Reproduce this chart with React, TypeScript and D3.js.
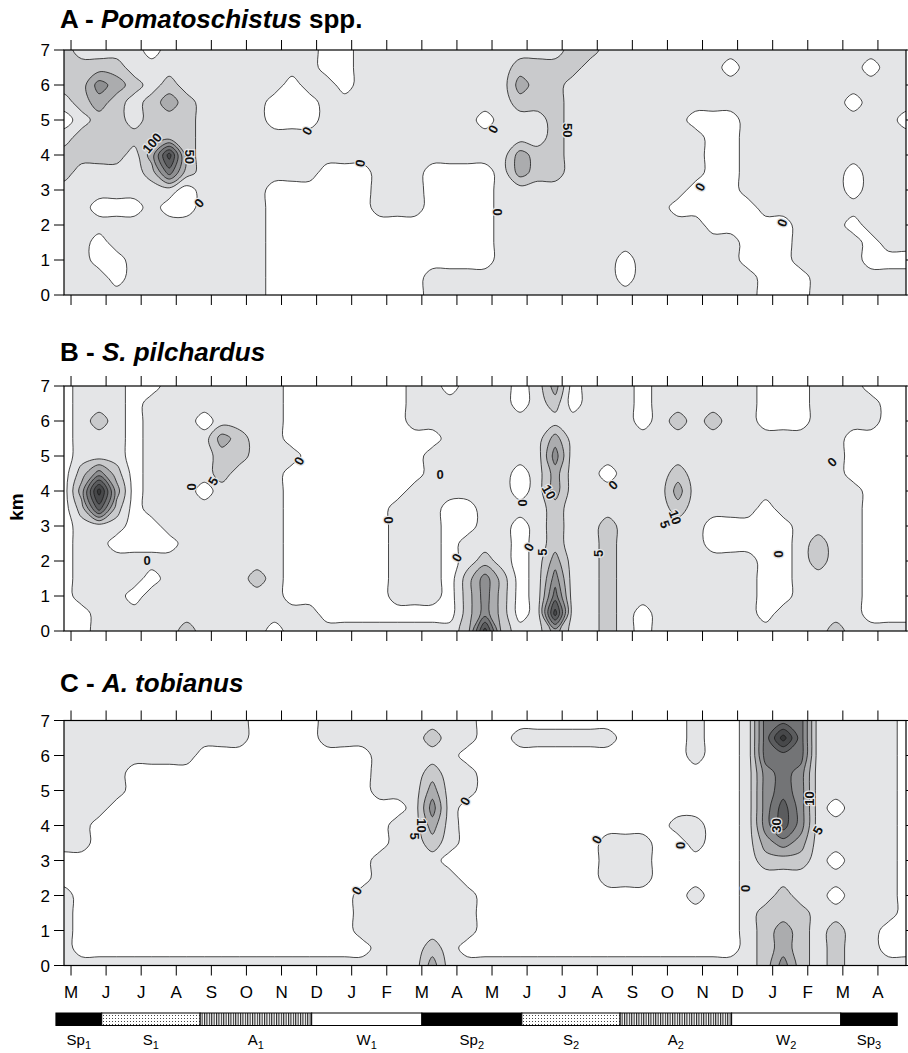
import * as d3 from 'd3'

// ---- data ----
const months = ['M', 'J', 'J', 'A', 'S', 'O', 'N', 'D', 'J', 'F', 'M', 'A', 'M', 'J', 'J', 'A', 'S', 'O', 'N', 'D', 'J', 'F', 'M', 'A']
const kmTicks = [0, 1, 2, 3, 4, 5, 6, 7]

// grids: one char per node, columns every half month from -0.2, rows every 0.5 km from 7 (top) down to 0
// value = contour band (0 = white/absent, 1 = first grey band, ...)
const gridA = [
  '2111101111' + '1111100111' + '1111111112' + '2111111111' + '111111111',
  '2222111111' + '1111100111' + '1111112222' + '1111111101' + '111111011',
  '2243212111' + '1110110111' + '1111113221' + '1111111111' + '111111111',
  '1232123211' + '1100011111' + '1111112221' + '1111111111' + '111110111',
  '0122122211' + '1100011111' + '1111011121' + '1111110001' + '111111110',
  '1222222211' + '1111111111' + '1111111121' + '1111111001' + '111111111',
  '2222137211' + '1111111111' + '1111113221' + '1111111001' + '111111111',
  '2111125211' + '1111100011' + '1000013221' + '1111111001' + '111110111',
  '1111111011' + '1100000011' + '1000011111' + '1111110001' + '111110111',
  '1100010011' + '1100000011' + '1000011111' + '1111100000' + '111111111',
  '1111111111' + '1100000000' + '0000011111' + '1111111000' + '001110111',
  '1101111111' + '1100000000' + '0000011111' + '1111111110' + '001111011',
  '1100111111' + '1100000000' + '0000011111' + '1101111110' + '001111000',
  '1110111111' + '1100000000' + '0111111111' + '1101111111' + '000111111',
  '1111111111' + '1100000000' + '0111111111' + '1111111111' + '000111111',
]

const gridB = [
  '0111001111' + '1110000000' + '1101110130' + '1110111111' + '000111000',
  '0111011111' + '1110000000' + '1111110120' + '1110111111' + '000111100',
  '0121011101' + '1110000000' + '1111111111' + '1110121211' + '000111100',
  '0111011113' + '2110000000' + '0011111131' + '1111111111' + '111110000',
  '0111011112' + '2111000000' + '0111111141' + '1111111111' + '111110000',
  '0242011112' + '1110000000' + '0111110131' + '1011121111' + '111110000',
  '0383011101' + '1110000000' + '1111110131' + '1111131111' + '111111000',
  '0262011111' + '1110000001' + '1100111121' + '1111121111' + '011111000',
  '0111001111' + '1110000001' + '1100110121' + '1211111000' + '001111000',
  '0110000111' + '1110000001' + '1101110121' + '1211111000' + '001211000',
  '0111111111' + '1110000001' + '1101210131' + '1211111111' + '001211000',
  '0111101111' + '1210000001' + '1102420141' + '1211111111' + '001111000',
  '0111011111' + '1110000001' + '1102420151' + '1211111111' + '001111000',
  '0011111111' + '1111100000' + '0002420171' + '1210111111' + '011111000',
  '0011111211' + '1101111111' + '1112721131' + '1210111111' + '111121111',
]

const gridC = [
  '1111111111' + '1000011111' + '1111000000' + '0000001001' + '555111110',
  '1111111111' + '1000011111' + '1211001111' + '1100001001' + '585111110',
  '1111111100' + '0000000011' + '1110000000' + '0000001001' + '555111110',
  '1111000000' + '0000000011' + '1211000000' + '0000000001' + '454111110',
  '1111000000' + '0000000011' + '1311000000' + '0000000001' + '454111110',
  '1110000000' + '0000000000' + '1410000000' + '0000000001' + '464101110',
  '1100000000' + '0000000001' + '1310000000' + '0000011001' + '464111110',
  '1100000000' + '0000000001' + '1210000000' + '0111001001' + '343111110',
  '0000000000' + '0000000011' + '1100000000' + '0111000001' + '222101110',
  '0000000000' + '0000000011' + '1110000000' + '0111000001' + '111111110',
  '1000000000' + '0000000111' + '1111000000' + '0000001001' + '121101110',
  '1000000000' + '0000000111' + '1111000000' + '0000000001' + '222111110',
  '1000000000' + '0000000111' + '1111000000' + '0000000001' + '232121100',
  '1000000000' + '0000000011' + '1210000000' + '0000000001' + '232121100',
  '1111111111' + '1111111111' + '1311111111' + '1111111111' + '242121111',
]

// contour labels: [month index, km, text, rotation]
const labelsA: [number, number, string, number][] = [
  [2.31, 4.34, '100', -50], [3.39, 3.95, '50', 90], [3.65, 2.63, '0', -50],
  [6.73, 4.69, '0', -60], [8.24, 3.77, '0', -80], [12.03, 4.74, '0', -60],
  [14.14, 4.71, '50', 90], [12.17, 2.37, '0', 90], [17.93, 3.09, '0', -60],
  [20.27, 2.06, '0', -70],
]
const labelsB: [number, number, string, number][] = [
  [2.17, 2.02, '0', 0], [3.45, 4.12, '0', 90], [4.05, 4.28, '5', -60],
  [6.5, 4.86, '0', -60], [10.52, 4.48, '0', 0], [9.04, 3.17, '0', 90],
  [12.88, 3.66, '0', 90], [13.62, 3.97, '10', 60], [15.45, 4.17, '0', -45],
  [11.0, 2.1, '0', -60], [13.05, 2.4, '0', -60], [13.45, 2.25, '5', -90],
  [15.02, 2.22, '5', -90], [17.22, 3.25, '10', 70], [16.93, 3.05, '5', 70],
  [20.18, 2.2, '0', 90], [21.69, 4.83, '0', -45],
]
const labelsC: [number, number, string, number][] = [
  [8.15, 2.14, '0', -60], [11.23, 4.7, '0', -60], [10.0, 4.0, '10', 90],
  [9.8, 3.7, '5', 90], [14.99, 3.6, '0', -60], [17.36, 3.43, '0', -90],
  [19.21, 2.2, '0', -90], [21.06, 4.77, '10', -90], [20.12, 4.0, '30', -90],
  [21.29, 3.86, '5', -60],
]

const seasonEdges = [-0.43, 0.875, 3.68, 6.86, 10.0, 12.85, 15.65, 18.83, 21.94, 23.55]
const seasonNames = ['Sp', 'S', 'A', 'W', 'Sp', 'S', 'A', 'W', 'Sp']
const seasonYears = ['1', '1', '1', '1', '2', '2', '2', '2', '3']
const seasonFill = ['#000', 'url(#dots)', 'url(#vlines)', '#fff', '#000', 'url(#dots)', 'url(#vlines)', '#fff', '#000']

// ---- layout ----
const FONT = '"Liberation Sans", Arial, Helvetica, sans-serif'
const plotLeft = 64
const plotRight = 906
const panelH = 245
const bandFills = ['#ffffff', '#e4e5e7', '#c9cacc', '#abacae', '#8e8f91', '#737476', '#5b5c5e', '#47484a', '#353637']

const x = d3.scaleLinear().domain([-0.2, 23.8]).range([plotLeft, plotRight])
const PAD = 2
const colStart = -0.2
const colStep = 0.5
const rowStep = 0.5

const smoothLine = d3.line<[number, number]>().curve(d3.curveCatmullRomClosed.alpha(0.5))

function bandPaths(rows: string[], y: d3.ScaleLinear<number, number>) {
  const ny = rows.length
  const nx = rows[0].length
  const w = nx + 2 * PAD
  const h = ny + 2 * PAD
  const values: number[] = new Array(w * h)
  for (let j = 0; j < h; j++) {
    for (let i = 0; i < w; i++) {
      const jj = Math.min(ny - 1, Math.max(0, j - PAD))
      const ii = Math.min(nx - 1, Math.max(0, i - PAD))
      values[j * w + i] = +rows[jj][ii]
    }
  }
  const max = d3.max(values) as number
  const gen = d3.contours().size([w, h])
  const toPx = ([gx, gy]: number[]): [number, number] => [
    x(colStart + colStep * (gx - PAD - 0.5)),
    y(7 - rowStep * (gy - PAD - 0.5)),
  ]
  const out: { d: string; fill: string }[] = []
  for (let k = 1; k <= max; k++) {
    const mp = gen.contour(values, k - 0.5)
    const d = mp.coordinates
      .flatMap((poly) => poly.map((ring) => smoothLine(ring.slice(0, -1).map(toPx)) || ''))
      .join('')
    out.push({ d, fill: bandFills[k] })
  }
  return out
}

type PanelProps = {
  id: string
  top: number
  grid: string[]
  labels: [number, number, string, number][]
  title: any
  titleY: number
  showMonths?: boolean
}

const Panel = ({ id, top, grid, labels, title, titleY, showMonths }: PanelProps) => {
  const y = d3.scaleLinear().domain([0, 7]).range([top + panelH, top])
  const paths = bandPaths(grid, y)
  const bottom = top + panelH
  return (
    <g>
      <text x={60} y={titleY} fontFamily={FONT} fontSize={26} fontWeight="bold">
        {title}
      </text>
      <clipPath id={'clip' + id}>
        <rect x={plotLeft} y={top} width={plotRight - plotLeft} height={panelH} />
      </clipPath>
      <g clipPath={`url(#clip${id})`}>
        <rect x={plotLeft} y={top} width={plotRight - plotLeft} height={panelH} fill="#fff" />
        {paths.map((p, i) => (
          <path key={i} d={p.d} fill={p.fill} fillRule="evenodd" stroke="#1a1a1a" strokeWidth={0.8} />
        ))}
        {labels.map(([m, km, t, r], i) => (
          <text
            key={i}
            transform={`translate(${x(m)},${y(km)}) rotate(${r})`}
            textAnchor="middle"
            dy="0.35em"
            fontFamily={FONT}
            fontSize={13}
            fontWeight="bold"
            fill="#111"
            stroke="#e4e5e7"
            strokeWidth={2.5}
            paintOrder="stroke"
          >
            {t}
          </text>
        ))}
      </g>
      <rect x={plotLeft} y={top} width={plotRight - plotLeft} height={panelH} fill="none" stroke="#000" strokeWidth={1.2} />
      {months.map((_, i) => (
        <g key={i}>
          <line x1={x(i)} x2={x(i)} y1={top} y2={top - 10} stroke="#000" strokeWidth={1} />
          <line x1={x(i)} x2={x(i)} y1={bottom} y2={bottom + 10} stroke="#000" strokeWidth={1} />
        </g>
      ))}
      {kmTicks.map((k) => (
        <g key={k}>
          <line x1={plotLeft - 10} x2={plotLeft} y1={y(k)} y2={y(k)} stroke="#000" strokeWidth={1} />
          <line x1={plotRight} x2={plotRight + 10} y1={y(k)} y2={y(k)} stroke="#000" strokeWidth={1} />
          <text x={plotLeft - 14} y={y(k)} dy="0.36em" textAnchor="end" fontFamily={FONT} fontSize={17}>
            {k}
          </text>
        </g>
      ))}
      {showMonths &&
        months.map((mo, i) => (
          <text key={i} x={x(i)} y={bottom + 32} textAnchor="middle" fontFamily={FONT} fontSize={17}>
            {mo}
          </text>
        ))}
    </g>
  )
}

export default function App() {
  const barY = 1013
  const barH = 12.5
  return (
    <svg
      width={908}
      height={1053}
      viewBox="0 0 908 1053"
      style={{ position: 'absolute', left: 0, top: 0, background: '#fff' }}
    >
      <defs>
        <pattern id="dots" width={3} height={3} patternUnits="userSpaceOnUse">
          <rect width={3} height={3} fill="#fff" />
          <rect x={1} y={1} width={1} height={1} fill="#444" />
        </pattern>
        <pattern id="vlines" width={2.4} height={4} patternUnits="userSpaceOnUse">
          <rect width={2.4} height={4} fill="#fff" />
          <rect x={0} y={0} width={1.1} height={4} fill="#222" />
        </pattern>
      </defs>
      <Panel
        id="A"
        top={50}
        grid={gridA}
        labels={labelsA}
        titleY={28}
        title={
          <>
            A - <tspan fontStyle="italic">Pomatoschistus</tspan> spp.
          </>
        }
      />
      <Panel
        id="B"
        top={386}
        grid={gridB}
        labels={labelsB}
        titleY={361}
        title={
          <>
            B - <tspan fontStyle="italic">S. pilchardus</tspan>
          </>
        }
      />
      <Panel
        id="C"
        top={720.5}
        grid={gridC}
        labels={labelsC}
        titleY={692}
        showMonths
        title={
          <>
            C - <tspan fontStyle="italic">A. tobianus</tspan>
          </>
        }
      />
      <text
        transform="translate(23,507) rotate(-90)"
        textAnchor="middle"
        fontFamily={FONT}
        fontSize={19}
        fontWeight="bold"
      >
        km
      </text>
      {seasonNames.map((s, i) => {
        const x0 = x(seasonEdges[i])
        const x1 = x(seasonEdges[i + 1])
        return (
          <g key={i}>
            <rect x={x0} y={barY} width={x1 - x0} height={barH} fill={seasonFill[i]} stroke="#000" strokeWidth={1} />
            <text x={(x0 + x1) / 2} y={1045} textAnchor="middle" fontFamily={FONT} fontSize={15}>
              {s}
              <tspan dy={4} fontSize={11}>
                {seasonYears[i]}
              </tspan>
            </text>
          </g>
        )
      })}
    </svg>
  )
}
